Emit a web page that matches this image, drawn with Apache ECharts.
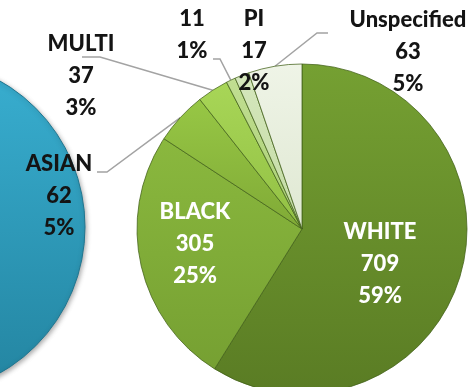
<!DOCTYPE html>
<html>
<head>
<meta charset="utf-8">
<style>
  html, body { margin: 0; padding: 0; background: #ffffff; }
  #chart { width: 475px; height: 387px; }
</style>
<script src="https://cdn.jsdelivr.net/npm/echarts@6/dist/echarts.min.js"></script>
</head>
<body>
<div id="chart"></div>
<script>
// Breakdown by race
const categories = ['WHITE', 'BLACK', 'ASIAN', 'MULTI', 'NATIVE', 'PI', 'Unspecified'];
const counts = [709, 305, 62, 37, 11, 17, 63];

// Main pie, only the breakdown slice reaches into view
const mainCategories = ['Other'];
const mainCounts = [1];

// Slice shading: [top, bottom] of each slice
const sliceShades = [
  ['#75a032', '#5a7c24'],
  ['#8ab83e', '#76a032'],
  ['#97c745', '#80aa36'],
  ['#a8d657', '#92c044'],
  ['#c1de92', '#a9cf72'],
  ['#d5e7bd', '#c3dba3'],
  ['#eff4e7', '#dfe8d2']
];
const insideLabels = ['WHITE', 'BLACK'];

// Label block centres and leader-line bends
const labelSpots = [
  [380, 264], [195, 244], [59, 196], [81, 76], [192, 19], [254, 51], [408, 52]
];
const leaderBends = [
  null, null,
  [[107, 172], [97, 172]],
  [[100, 57], [82, 57]],
  [[220, 59], [213, 59]],
  null,
  [[317, 33], [328, 33]]
];

const vgrad = (a, b) => ({
  type: 'linear', x: 0, y: 0, x2: 0, y2: 1,
  colorStops: [{ offset: 0, color: a }, { offset: 1, color: b }]
});

const chart = echarts.init(document.getElementById('chart'), null, { renderer: 'canvas' });

chart.setOption({
  animation: false,
  backgroundColor: '#ffffff',
  series: [
    {
      type: 'pie',
      center: [-83, 227],
      radius: 168,
      silent: true,
      label: { show: false },
      labelLine: { show: false },
      itemStyle: {
        color: vgrad('#39afd1', '#2384a0'),
        borderColor: '#1f7690',
        borderWidth: 1,
        shadowBlur: 5,
        shadowColor: 'rgba(0,0,0,0.35)',
        shadowOffsetX: 1,
        shadowOffsetY: 2
      },
      data: mainCategories.map((n, i) => ({ name: n, value: mainCounts[i] }))
    },
    {
      type: 'pie',
      center: [302, 229],
      radius: 165,
      startAngle: 90,
      clockwise: true,
      percentPrecision: 0,
      avoidLabelOverlap: false,
      itemStyle: {
        borderColor: 'rgba(66,96,24,0.75)',
        borderWidth: 1
      },
      label: {
        show: true,
        formatter: '{b}\n{c}\n{d}%',
        fontFamily: 'Lato',
        fontWeight: 900,
        fontSize: 22,
        lineHeight: 32,
        color: '#141414',
        align: 'center'
      },
      labelLine: {
        show: true,
        length: 10,
        length2: 10,
        lineStyle: { color: '#a3a3a3', width: 1.5 }
      },
      labelLayout: function (p) {
        const spot = labelSpots[p.dataIndex];
        const out = {
          x: spot[0],
          y: spot[1],
          align: 'center',
          verticalAlign: 'middle',
          hideOverlap: false,
          moveOverlap: false
        };
        const bend = leaderBends[p.dataIndex];
        if (bend && p.labelLinePoints) {
          out.labelLinePoints = [p.labelLinePoints[0], bend[0], bend[1]];
        }
        return out;
      },
      data: categories.map((n, i) => {
        const item = {
          name: n,
          value: counts[i],
          itemStyle: { color: vgrad(sliceShades[i][0], sliceShades[i][1]) }
        };
        if (insideLabels.indexOf(n) >= 0) {
          item.label = { position: 'inside', color: '#ffffff' };
        }
        if (!leaderBends[i]) {
          item.labelLine = { show: false };
        }
        return item;
      })
    }
  ]
});
</script>
</body>
</html>
